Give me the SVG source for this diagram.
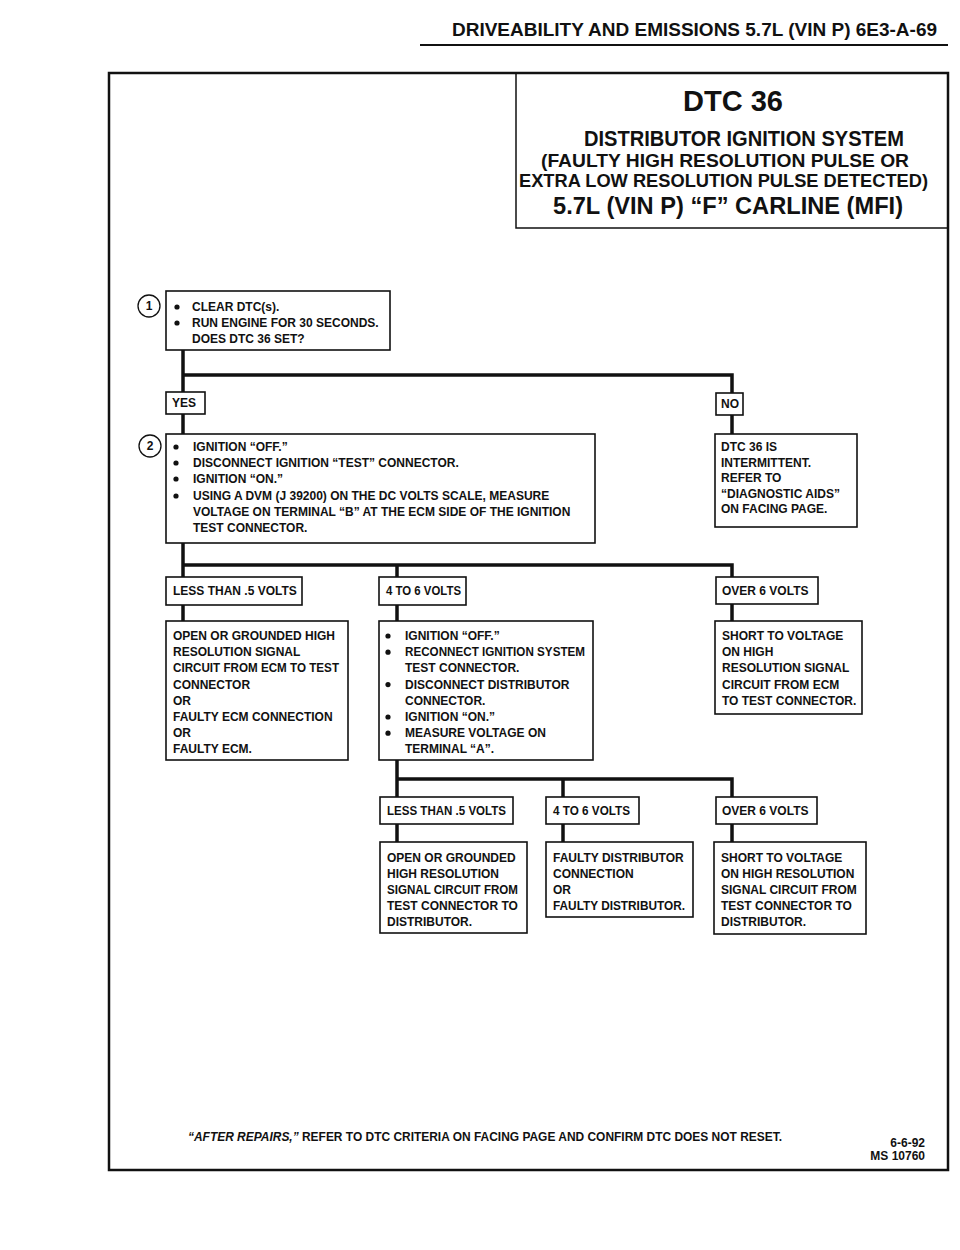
<svg xmlns="http://www.w3.org/2000/svg" width="960" height="1250" viewBox="0 0 960 1250">
<style>
.t{font-family:"Liberation Sans",Arial,sans-serif;font-weight:700;font-size:12px;fill:#111}
.h{font-family:"Liberation Sans",Arial,sans-serif;font-weight:700;fill:#111}
.box{fill:#fff;stroke:#111;stroke-width:1.6}
.conn{fill:none;stroke:#111;stroke-width:3.5;stroke-linejoin:miter}
.frame{fill:none;stroke:#111;stroke-width:2.5}
.num{fill:#fff;stroke:#111;stroke-width:1.3}
.dot{fill:#111}
</style>
<rect width="960" height="1250" fill="#fff"/>
<g id="header">
<text class="h" x="452" y="36" font-size="18" textLength="485" lengthAdjust="spacingAndGlyphs">DRIVEABILITY AND EMISSIONS 5.7L (VIN P) 6E3-A-69</text>
<line x1="420" y1="45" x2="948" y2="45" stroke="#111" stroke-width="2"/>
</g>
<g id="frame">
<rect class="frame" x="109" y="73" width="839" height="1097"/>
</g>
<g id="title">
<path d="M516,73 V228 H948" fill="none" stroke="#111" stroke-width="1.5"/>
<text class="h" x="683" y="111" font-size="30" textLength="100" lengthAdjust="spacingAndGlyphs">DTC 36</text>
<text class="h" x="584" y="146" font-size="22" textLength="320" lengthAdjust="spacingAndGlyphs">DISTRIBUTOR IGNITION SYSTEM</text>
<text class="h" x="541" y="167" font-size="19" textLength="368" lengthAdjust="spacingAndGlyphs">(FAULTY HIGH RESOLUTION PULSE OR</text>
<text class="h" x="519" y="187" font-size="19" textLength="409" lengthAdjust="spacingAndGlyphs">EXTRA LOW RESOLUTION PULSE DETECTED)</text>
<text class="h" x="553" y="214" font-size="23" textLength="350" lengthAdjust="spacingAndGlyphs">5.7L (VIN P) “F” CARLINE (MFI)</text>
</g>
<g id="connectors">
<path class="conn" d="M183,350 V434"/>
<path class="conn" d="M183,375 H732 V434"/>
<path class="conn" d="M183,543 V621"/>
<path class="conn" d="M183,565 H732 V621"/>
<path class="conn" d="M397,565 V621"/>
<path class="conn" d="M397,760 V842"/>
<path class="conn" d="M397,779 H732 V842"/>
<path class="conn" d="M563,779 V842"/>
</g>
<g id="step1">
<circle class="num" cx="149" cy="306" r="11"/>
<text class="t" x="149" y="310" text-anchor="middle">1</text>
<rect class="box" x="166" y="291" width="224" height="59"/>
<circle class="dot" cx="177" cy="307" r="2.6"/>
<text class="t" x="192" y="311">CLEAR DTC(s).</text>
<circle class="dot" cx="177" cy="323" r="2.6"/>
<text class="t" x="192" y="327">RUN ENGINE FOR 30 SECONDS.</text>
<text class="t" x="192" y="343">DOES DTC 36 SET?</text>
</g>
<g id="yes">
<rect class="box" x="166" y="392" width="39" height="22"/>
<text class="t" x="172" y="407">YES</text>
</g>
<g id="no">
<rect class="box" x="716" y="393" width="27" height="22"/>
<text class="t" x="721" y="408">NO</text>
</g>
<g id="step2">
<circle class="num" cx="150" cy="446" r="11"/>
<text class="t" x="150" y="450" text-anchor="middle">2</text>
<rect class="box" x="166" y="434" width="429" height="109"/>
<circle class="dot" cx="176" cy="447" r="2.6"/>
<text class="t" x="193" y="451">IGNITION “OFF.”</text>
<circle class="dot" cx="176" cy="463" r="2.6"/>
<text class="t" x="193" y="467">DISCONNECT IGNITION “TEST” CONNECTOR.</text>
<circle class="dot" cx="176" cy="479" r="2.6"/>
<text class="t" x="193" y="483">IGNITION “ON.”</text>
<circle class="dot" cx="176" cy="496" r="2.6"/>
<text class="t" x="193" y="500">USING A DVM (J 39200) ON THE DC VOLTS SCALE, MEASURE</text>
<text class="t" x="193" y="516">VOLTAGE ON TERMINAL “B” AT THE ECM SIDE OF THE IGNITION</text>
<text class="t" x="193" y="532">TEST CONNECTOR.</text>
</g>
<g id="intermittent">
<rect class="box" x="715" y="434" width="142" height="93"/>
<text class="t" x="721" y="451">DTC 36 IS</text>
<text class="t" x="721" y="466.5">INTERMITTENT.</text>
<text class="t" x="721" y="482">REFER TO</text>
<text class="t" x="721" y="497.5">“DIAGNOSTIC AIDS”</text>
<text class="t" x="721" y="513">ON FACING PAGE.</text>
</g>
<g id="lbl-less1">
<rect class="box" x="166" y="577" width="136" height="28"/>
<text class="t" x="173" y="595">LESS THAN .5 VOLTS</text>
</g>
<g id="lbl-mid1">
<rect class="box" x="379" y="577" width="87" height="28"/>
<text class="t" x="386" y="595" textLength="75" lengthAdjust="spacingAndGlyphs">4 TO 6 VOLTS</text>
</g>
<g id="lbl-over1">
<rect class="box" x="716" y="577" width="102" height="27"/>
<text class="t" x="722" y="595">OVER 6 VOLTS</text>
</g>
<g id="res-less1">
<rect class="box" x="166" y="621" width="182" height="139"/>
<text class="t" x="173" y="640">OPEN OR GROUNDED HIGH</text>
<text class="t" x="173" y="656.2">RESOLUTION SIGNAL</text>
<text class="t" x="173" y="672.4" textLength="166" lengthAdjust="spacingAndGlyphs">CIRCUIT FROM ECM TO TEST</text>
<text class="t" x="173" y="688.6">CONNECTOR</text>
<text class="t" x="173" y="704.8">OR</text>
<text class="t" x="173" y="721">FAULTY ECM CONNECTION</text>
<text class="t" x="173" y="737.2">OR</text>
<text class="t" x="173" y="753.4">FAULTY ECM.</text>
</g>
<g id="step3">
<rect class="box" x="379" y="621" width="214" height="139"/>
<circle class="dot" cx="388" cy="636" r="2.6"/>
<text class="t" x="405" y="640">IGNITION “OFF.”</text>
<circle class="dot" cx="388" cy="652.2" r="2.6"/>
<text class="t" x="405" y="656.2" textLength="180" lengthAdjust="spacingAndGlyphs">RECONNECT IGNITION SYSTEM</text>
<text class="t" x="405" y="672.4">TEST CONNECTOR.</text>
<circle class="dot" cx="388" cy="684.6" r="2.6"/>
<text class="t" x="405" y="688.6">DISCONNECT DISTRIBUTOR</text>
<text class="t" x="405" y="704.8">CONNECTOR.</text>
<circle class="dot" cx="388" cy="717" r="2.6"/>
<text class="t" x="405" y="721">IGNITION “ON.”</text>
<circle class="dot" cx="388" cy="733.2" r="2.6"/>
<text class="t" x="405" y="737.2">MEASURE VOLTAGE ON</text>
<text class="t" x="405" y="753.4">TERMINAL “A”.</text>
</g>
<g id="res-over1">
<rect class="box" x="715" y="621" width="147" height="93"/>
<text class="t" x="722" y="640">SHORT TO VOLTAGE</text>
<text class="t" x="722" y="656.2">ON HIGH</text>
<text class="t" x="722" y="672.4">RESOLUTION SIGNAL</text>
<text class="t" x="722" y="688.6">CIRCUIT FROM ECM</text>
<text class="t" x="722" y="704.8">TO TEST CONNECTOR.</text>
</g>
<g id="lbl-less2">
<rect class="box" x="380" y="797" width="133" height="27"/>
<text class="t" x="387" y="815" textLength="119" lengthAdjust="spacingAndGlyphs">LESS THAN .5 VOLTS</text>
</g>
<g id="lbl-mid2">
<rect class="box" x="546" y="797" width="93" height="27"/>
<text class="t" x="553" y="815" textLength="77" lengthAdjust="spacingAndGlyphs">4 TO 6 VOLTS</text>
</g>
<g id="lbl-over2">
<rect class="box" x="716" y="797" width="101" height="27"/>
<text class="t" x="722" y="815">OVER 6 VOLTS</text>
</g>
<g id="res-less2">
<rect class="box" x="380" y="842" width="147" height="91"/>
<text class="t" x="387" y="862">OPEN OR GROUNDED</text>
<text class="t" x="387" y="878">HIGH RESOLUTION</text>
<text class="t" x="387" y="894" textLength="131" lengthAdjust="spacingAndGlyphs">SIGNAL CIRCUIT FROM</text>
<text class="t" x="387" y="910">TEST CONNECTOR TO</text>
<text class="t" x="387" y="926">DISTRIBUTOR.</text>
</g>
<g id="res-mid2">
<rect class="box" x="546" y="842" width="147" height="75"/>
<text class="t" x="553" y="862">FAULTY DISTRIBUTOR</text>
<text class="t" x="553" y="878">CONNECTION</text>
<text class="t" x="553" y="894">OR</text>
<text class="t" x="553" y="910" textLength="132" lengthAdjust="spacingAndGlyphs">FAULTY DISTRIBUTOR.</text>
</g>
<g id="res-over2">
<rect class="box" x="714" y="842" width="152" height="92"/>
<text class="t" x="721" y="862">SHORT TO VOLTAGE</text>
<text class="t" x="721" y="878">ON HIGH RESOLUTION</text>
<text class="t" x="721" y="894">SIGNAL CIRCUIT FROM</text>
<text class="t" x="721" y="910">TEST CONNECTOR TO</text>
<text class="t" x="721" y="926">DISTRIBUTOR.</text>
</g>
<g id="footer">
<text class="t" x="188" y="1141" textLength="594" lengthAdjust="spacingAndGlyphs"><tspan font-style="italic">“AFTER REPAIRS,”</tspan> REFER TO DTC CRITERIA ON FACING PAGE AND CONFIRM DTC DOES NOT RESET.</text>
<text class="t" x="925" y="1147" text-anchor="end">6-6-92</text>
<text class="t" x="925" y="1160" text-anchor="end">MS 10760</text>
</g>
</svg>
